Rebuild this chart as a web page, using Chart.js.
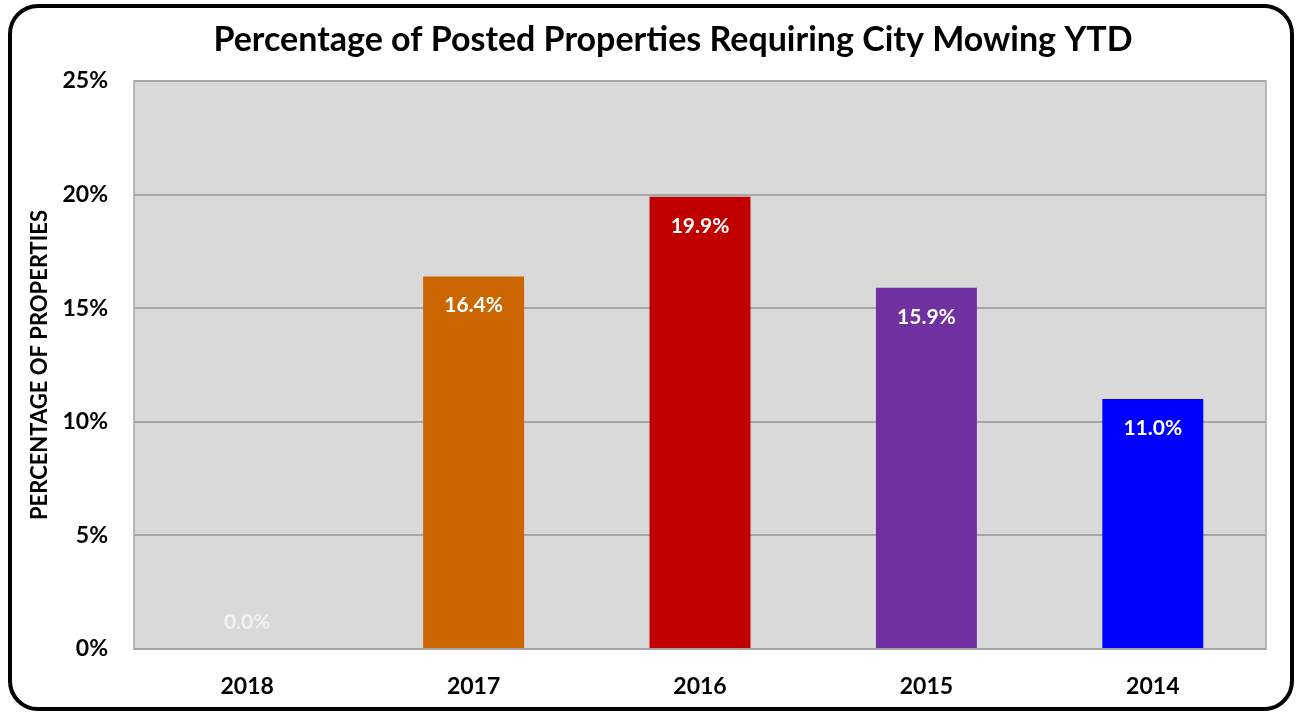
<!DOCTYPE html>
<html>
<head>
<meta charset="utf-8">
<script src="https://cdn.jsdelivr.net/npm/chart.js@4/dist/chart.umd.min.js"></script>
<style>
  html, body { margin: 0; padding: 0; background: #ffffff; }
  #frame {
    position: absolute; left: 8px; top: 4px; width: 1286px; height: 707px;
    box-sizing: border-box; border: 4px solid #000; border-radius: 30px;
    background: #fff; overflow: hidden;
  }
  #wrap { position: absolute; left: 0; top: 0; width: 1278px; height: 699px; }
</style>
</head>
<body>
<div id="frame"><div id="wrap"><canvas id="c" width="1278" height="699"></canvas></div></div>
<script>
const titleText = "Percentage of Posted Properties Requiring City Mowing YTD";
const yAxisTitle = "PERCENTAGE OF PROPERTIES";
const categories = ["2018", "2017", "2016", "2015", "2014"];
const values = [0.0, 16.4, 19.9, 15.9, 11.0];
const barColors = ["#d9d9d9", "#cc6600", "#c00000", "#7030a0", "#0000ff"];
const yTicks = [0, 5, 10, 15, 20, 25];

const FONT = "Lato, 'Noto Sans', 'DejaVu Sans', sans-serif";

const plotBg = {
  id: 'plotBg',
  beforeDraw(chart) {
    const {ctx, chartArea: a} = chart;
    ctx.save();
    ctx.fillStyle = '#d9d9d9';
    ctx.fillRect(a.left, a.top, a.right - a.left, a.bottom - a.top);
    ctx.restore();
  },
  afterDatasetsDraw(chart) {
    const {ctx, chartArea: a} = chart;
    ctx.save();
    ctx.strokeStyle = '#a6a6a6';
    ctx.lineWidth = 1.5;
    ctx.strokeRect(a.left, a.top, a.right - a.left, a.bottom - a.top);
    ctx.restore();
  }
};

const titlePlugin = {
  id: 'customTitle',
  afterDraw(chart) {
    const ctx = chart.ctx;
    ctx.save();
    ctx.fillStyle = '#000';
    ctx.font = "bold 34px " + FONT;
    ctx.textAlign = 'center';
    ctx.textBaseline = 'middle';
    ctx.fillText(titleText, 661, 32);
    ctx.restore();
  }
};

const labelPlugin = {
  id: 'barLabels',
  afterDatasetsDraw(chart) {
    const ctx = chart.ctx;
    const meta = chart.getDatasetMeta(0);
    ctx.save();
    ctx.font = "bold 21px " + FONT;
    ctx.textAlign = 'center';
    ctx.textBaseline = 'middle';
    meta.data.forEach((bar, i) => {
      const v = values[i];
      ctx.fillStyle = v === 0 ? '#f2f2f2' : '#ffffff';
      const top = v === 0 ? bar.y - 56 : bar.y;
      ctx.fillText(v.toFixed(1) + '%', bar.x, top + 29);
    });
    ctx.restore();
  }
};

new Chart(document.getElementById('c'), {
  type: 'bar',
  data: {
    labels: categories,
    datasets: [{
      data: values,
      backgroundColor: barColors,
      borderWidth: 0,
      barPercentage: 0.446,
      categoryPercentage: 1.0
    }]
  },
  options: {
    responsive: false,
    animation: false,
    devicePixelRatio: 1,
    layout: { padding: { left: 11, right: 24, top: 73, bottom: 0 } },
    plugins: {
      legend: { display: false },
      title: { display: false },
      tooltip: { enabled: false }
    },
    scales: {
      x: {
        grid: { display: false, drawTicks: false },
        border: { display: false },
        ticks: { color: '#000', font: { family: FONT, size: 23, weight: 'bold' }, padding: 24 },
        afterFit(s) { s.height = 58; }
      },
      y: {
        min: 0, max: 25,
        afterBuildTicks(s) { s.ticks = yTicks.map(v => ({ value: v })); },
        grid: { color: '#a6a6a6', lineWidth: 2, drawTicks: false },
        border: { display: false },
        ticks: {
          color: '#000', padding: 26,
          font: { family: FONT, size: 23, weight: 'bold' },
          callback: v => v + '%'
        },
        title: {
          display: true, text: yAxisTitle, color: '#000',
          font: { family: FONT, size: 22, weight: 'bold' }
        },
        afterFit(s) { s.width = 111; }
      }
    }
  },
  plugins: [plotBg, labelPlugin, titlePlugin]
});
</script>
</body>
</html>
